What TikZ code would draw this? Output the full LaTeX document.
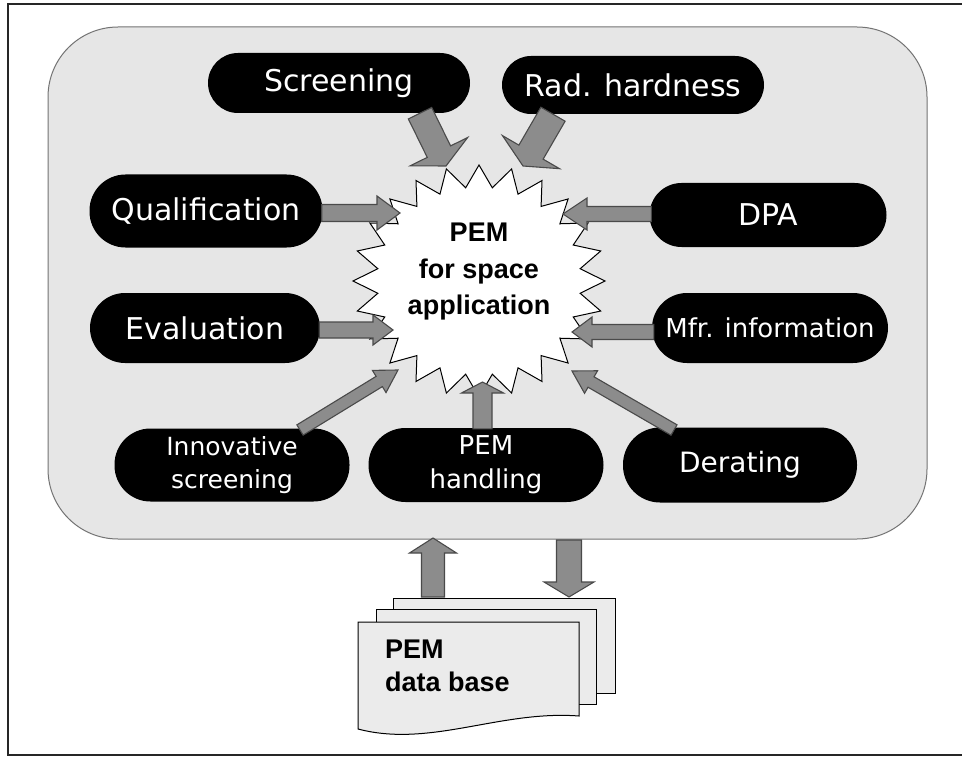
\documentclass[tikz,border=0pt]{standalone}
\usepackage{fontspec}
\setmainfont{Liberation Sans}
\newfontfamily\pillfont{DejaVu Sans}
\usetikzlibrary{calc}
\definecolor{panelgray}{HTML}{E6E6E6}
\definecolor{arrfill}{HTML}{8C8C8C}
\definecolor{arrline}{HTML}{4A4A4A}
\definecolor{sheetgray}{HTML}{EBEBEB}
\tikzset{
  pill/.style={fill=black, text=white, inner sep=0pt, align=center,
    font=\pillfont\fontsize{30pt}{34pt}\selectfont},
  blockarr/.style={fill=arrfill, draw=arrline, line width=1.1pt, line join=miter},
  sheet/.style={fill=sheetgray, draw=black, line width=1pt},
  dbtext/.style={font=\bfseries\fontsize{27pt}{33pt}\selectfont, align=left, inner sep=0pt, anchor=north west},
  pemtext/.style={font=\bfseries\fontsize{27pt}{36.5pt}\selectfont, align=center, inner sep=0pt}
}
\newcommand\blockarrow[5]{%
  \path ($(#2)!#5!(#1)$) coordinate (bah);
  \filldraw[blockarr] ($(#1)!#3!90:(#2)$) -- ($(bah)!#3!90:(#2)$) -- ($(bah)!#4!90:(#2)$)
    -- (#2) -- ($(bah)!#4!-90:(#2)$) -- ($(bah)!#3!-90:(#2)$) -- ($(#1)!#3!-90:(#2)$) -- cycle;}
\begin{document}
\begin{tikzpicture}[x=1pt,y=-1pt]
\useasboundingbox (0,0) rectangle (962,757);
\fill[white] (0,0) rectangle (962,757);
% outer frame
\draw[line width=1.5pt, black!85] (962,4) -- (8,4) -- (8,755) -- (962,755);
% panel
\draw[fill=panelgray, draw=black!55, line width=1pt, rounded corners=70pt] (48,27) rectangle (927,539);

% star
\draw[fill=white, draw=black, line width=1pt] plot[variable=\k, samples at={0,...,47}]
  ({479+(126-24*mod(\k,2))*cos(90+7.5*\k)}, {281-(116-22*mod(\k,2))*sin(90+7.5*\k)}) -- cycle;
\node[pemtext] (pem) at (479,272) {PEM\\for space\\application};

% pills
\node[pill, minimum width=262pt, minimum height=60pt, rounded corners=30pt] (scr) at (339,83) {Screening};
\node[pill, minimum width=262pt, minimum height=58pt, rounded corners=29pt] (rad) at (633,85) {Rad. hardness};
\node[pill, minimum width=233pt, minimum height=73pt, rounded corners=36pt] (qual) at (206,211) {Qualification};
\node[pill, minimum width=237pt, minimum height=64pt, rounded corners=32pt] (dpa) at (768,215) {DPA};
\node[pill, minimum width=230pt, minimum height=70pt, rounded corners=35pt] (eval) at (205,328) {Evaluation};
\node[pill, minimum width=236pt, minimum height=70pt, rounded corners=35pt,
      font=\pillfont\fontsize{26pt}{32pt}\selectfont] (mfr) at (770,328) {Mfr. information};
\node[pill, minimum width=235pt, minimum height=73pt, rounded corners=36pt,
      font=\pillfont\fontsize{25pt}{33pt}\selectfont] (innov) at (232,465) {Innovative\\screening};
\node[pill, minimum width=235pt, minimum height=74pt, rounded corners=37pt,
      font=\pillfont\fontsize{26pt}{34pt}\selectfont] (hand) at (486,465) {PEM\\handling};
\node[pill, minimum width=234pt, minimum height=75pt, rounded corners=37pt,
      font=\pillfont\fontsize{28pt}{34pt}\selectfont] (der) at (740,465) {Derating};

% data base sheets
\draw[sheet] (393,598) rectangle (615,693);
\draw[sheet] (376,609) rectangle (596,704);
\draw[sheet] (358,622) -- (579,622) -- (579,716) .. controls (500,710) and (430,748) .. (358,729) -- cycle;
\node[dbtext] (db) at (385,640) {PEM\\data base};

% arrow end points
\coordinate (scr-o) at ($(scr.south)+(81,0)$);
\coordinate (scr-i) at (446,166);
\coordinate (rad-o) at ($(rad.south)+(-80,0)$);
\coordinate (rad-i) at (523,166);
\coordinate (qual-o) at ($(qual.east)+(-1,2)$);
\coordinate (qual-i) at (400,213);
\coordinate (eval-o) at ($(eval.east)+(-1,2)$);
\coordinate (eval-i) at (393,330);
\coordinate (dpa-o) at ($(dpa.west)+(2,-1)$);
\coordinate (dpa-i) at (563,214);
\coordinate (mfr-o) at ($(mfr.west)+(2,4)$);
\coordinate (mfr-i) at (572,332);
\coordinate (innov-o) at (300,430);
\coordinate (innov-i) at (398,370);
\coordinate (hand-o) at ($(hand.north)+(-3.5,1)$);
\coordinate (hand-i) at (482.5,382);
\coordinate (der-o) at (674,430);
\coordinate (der-i) at (572,371);
\coordinate (up-o) at (433,597);
\coordinate (up-i) at (433,538);
\coordinate (dn-o) at (569,540);
\coordinate (dn-i) at (569,597);

\blockarrow{scr-o}{scr-i}{13pt}{32pt}{16pt}
\blockarrow{rad-o}{rad-i}{14pt}{33pt}{16pt}
\blockarrow{qual-o}{qual-i}{8.5pt}{17pt}{23pt}
\blockarrow{eval-o}{eval-i}{8pt}{15pt}{20pt}
\blockarrow{dpa-o}{dpa-i}{7.5pt}{16pt}{24pt}
\blockarrow{mfr-o}{mfr-i}{7.5pt}{15pt}{20pt}
\blockarrow{innov-o}{innov-i}{6pt}{13pt}{22pt}
\blockarrow{hand-o}{hand-i}{9.5pt}{21pt}{11pt}
\blockarrow{der-o}{der-i}{6pt}{13pt}{22pt}
\blockarrow{up-o}{up-i}{11.5pt}{23.5pt}{15pt}
\blockarrow{dn-o}{dn-i}{12.5pt}{25pt}{15pt}
\end{tikzpicture}
\end{document}
